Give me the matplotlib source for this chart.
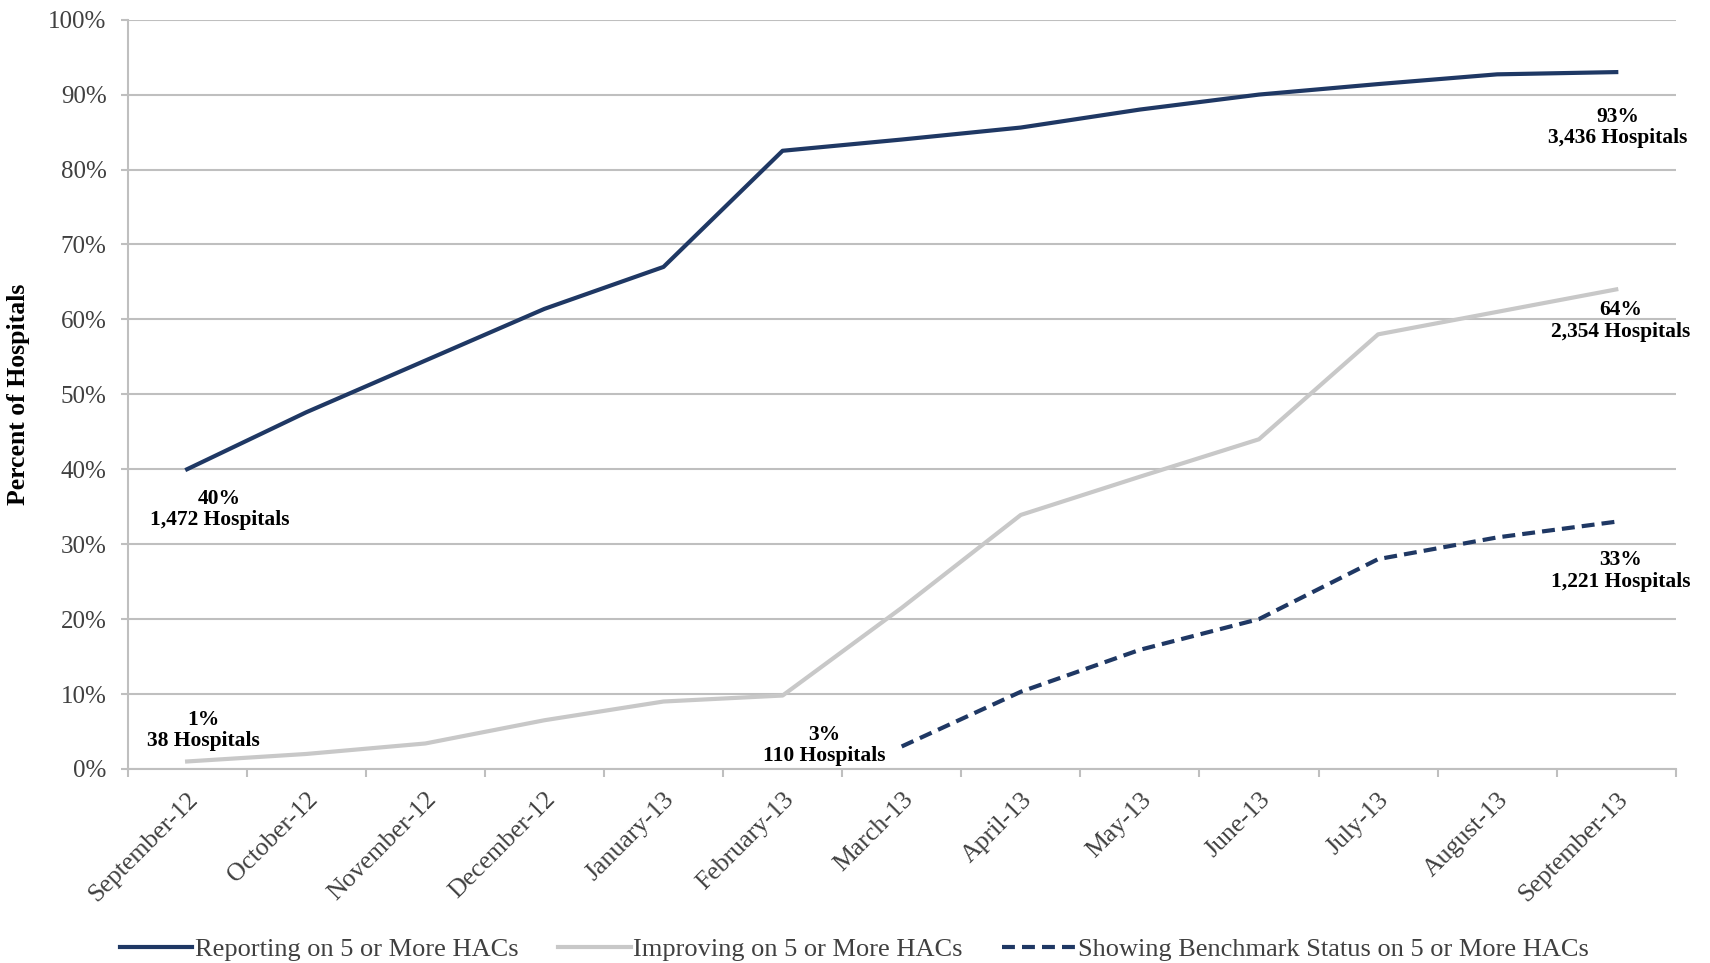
import numpy as np
import matplotlib
matplotlib.use("Agg")
import matplotlib.pyplot as plt

# Monthly share of hospitals (percent)
months = ['September-12', 'October-12', 'November-12', 'December-12', 'January-13',
          'February-13', 'March-13', 'April-13', 'May-13', 'June-13', 'July-13',
          'August-13', 'September-13']
reporting = [40, 47.6, 54.5, 61.4, 67.0, 82.5, 84.0, 85.6, 88.0, 90.0, 91.4, 92.7, 93]
improving = [1, 2.0, 3.4, 6.5, 9.0, 9.8, 21.5, 33.9, 39.0, 44.0, 58.0, 61.0, 64]
benchmark = [np.nan, np.nan, np.nan, np.nan, np.nan, np.nan, 3, 10.3, 15.9, 20.0, 28.0, 30.9, 33]

series_names = ['Reporting on 5 or More HACs', 'Improving on 5 or More HACs',
                'Showing Benchmark Status on 5 or More HACs']

# Callout labels: text, x (month index), y (percent)
callouts = [
    ('40%\n1,472 Hospitals', 0.27, 34.6),
    ('1%\n38 Hospitals', 0.14, 5.1),
    ('3%\n110 Hospitals', 5.35, 3.1),
    ('93%\n3,436 Hospitals', 12.01, 85.6),
    ('64%\n2,354 Hospitals', 12.04, 59.8),
    ('33%\n1,221 Hospitals', 12.04, 26.4),
]

navy = '#1f3864'
light = '#c8c8c8'
grid_gray = '#bfbfbf'
text_gray = '#404040'

plt.rcParams['font.family'] = ['Liberation Serif', 'DejaVu Serif']

fig = plt.figure(figsize=(17.1, 9.63), dpi=100)
ax = fig.add_axes([0.0746, 0.2015, 0.9054, 0.7781])

x = np.arange(len(months))
ax.plot(x, reporting, color=navy, lw=3, label=series_names[0], zorder=3)
ax.plot(x, improving, color=light, lw=3, label=series_names[1], zorder=3)
ax.plot(x, benchmark, color=navy, lw=3, ls=(0, (3.1, 1.7)), label=series_names[2], zorder=3)

ax.set_xlim(-0.5, len(months) - 0.5)
ax.set_ylim(0, 100)
ax.set_yticks(np.arange(0, 101, 10))
ax.set_yticklabels([f'{v}%' for v in range(0, 101, 10)])
ax.yaxis.grid(True, color=grid_gray, lw=1.5)
ax.set_axisbelow(True)

# category labels in the middle, tick marks on the boundaries
ax.set_xticks(x)
ax.set_xticklabels(months, rotation=45, ha='right', va='top', rotation_mode='anchor')
ax.set_xticks(np.arange(-0.5, len(months), 1), minor=True)
ax.tick_params(axis='x', which='major', length=0, pad=14, labelsize=18.5, labelcolor=text_gray)
ax.tick_params(axis='x', which='minor', length=6, width=1.5, color=grid_gray)
ax.tick_params(axis='y', length=5, width=1.5, color=grid_gray, pad=10,
               labelsize=18, labelcolor=text_gray)

for side in ['top', 'right']:
    ax.spines[side].set_visible(False)
for side in ['left', 'bottom']:
    ax.spines[side].set_color(grid_gray)
    ax.spines[side].set_linewidth(1.5)

ax.set_ylabel('Percent of Hospitals', fontsize=18.5, fontweight='bold')
ax.yaxis.set_label_coords(-0.063, 0.5)

for txt, tx, ty in callouts:
    ax.text(tx, ty, txt, ha='center', va='center', fontsize=15.5, fontweight='bold',
            linespacing=1.1, color='black')

fig.legend(loc='center', bbox_to_anchor=(0.4995, 0.0145), ncol=3, frameon=False,
           fontsize=19, handlelength=2.75, handletextpad=0.1, columnspacing=1.5,
           labelcolor=text_gray)

fig.savefig('out.png', dpi=100)
